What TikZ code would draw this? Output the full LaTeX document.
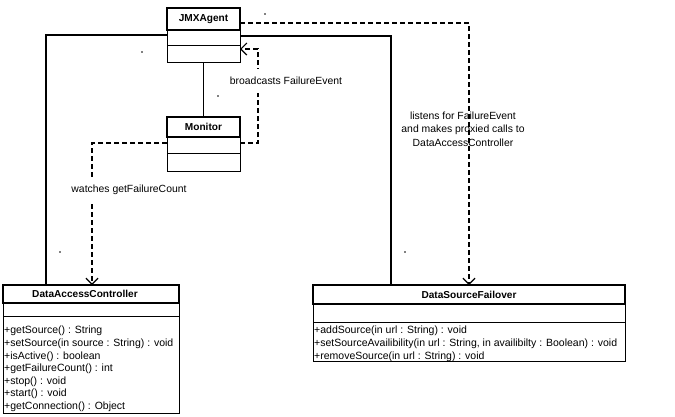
\documentclass[tikz,border=0pt]{standalone}
\usepackage{fontspec}
\setmainfont{Liberation Sans}
\usetikzlibrary{arrows.meta}
\begin{document}
\begin{tikzpicture}[x=1pt,y=-1pt,
  every node/.style={font=\fontsize{10}{12}\selectfont},
  cbox/.style={draw, line width=0.9pt, inner sep=0pt, outer sep=0pt, anchor=north west},
  namebox/.style={cbox, line width=1.8pt, font=\fontsize{10.1}{12}\selectfont\bfseries},
  opstext/.style={anchor=north west, inner sep=0pt, align=left, font=\fontsize{10.5}{12.6}\selectfont},
  assoc/.style={line width=1.8pt},
  dep/.style={line width=2.2pt, dash pattern=on 5pt off 3pt, -{Straight Barb[length=6pt,width=12pt,line width=1.2pt]}},
  lbl/.style={font=\fontsize{10.4}{13.5}\selectfont, align=center, inner sep=0pt},
  gap/.style={lbl, fill=white, inner xsep=1pt, inner ysep=8.5pt},
  tinydot/.style={fill=black}
]
\useasboundingbox (0,0) rectangle (675,416);
\fill[white] (0,0) rectangle (675,416);

% JMXAgent
\node[cbox, minimum width=73pt, minimum height=15pt] (jmxattr) at (167,30) {};
\node[cbox, minimum width=73pt, minimum height=17pt] (jmxops) at (167,45) {};
\node[namebox, minimum width=73pt, minimum height=22pt] (jmx) at (167,8) {JMXAgent};

% Monitor
\node[cbox, minimum width=73pt, minimum height=16pt] (monattr) at (167,137) {};
\node[cbox, minimum width=73pt, minimum height=18pt] (monops) at (167,153) {};
\node[namebox, minimum width=73pt, minimum height=20pt] (mon) at (167,117) {Monitor};

% DataAccessController
\node[cbox, minimum width=176pt, minimum height=13pt] (dacattr) at (3,303) {};
\node[cbox, minimum width=176pt, minimum height=97pt] (dacops) at (3,316) {};
\node[namebox, minimum width=176pt, minimum height=18pt,
      label={[font=\fontsize{10.1}{12}\selectfont\bfseries, xshift=-6pt]center:DataAccessController}] (dac) at (3,285) {};
\node[opstext] (dactext) at (4,326) {+getSource() : String\\
+setSource(in source : String) : void\\
+isActive() : boolean\\
+getFailureCount() : int\\
+stop() : void\\
+start() : void\\
+getConnection() : Object};

% DataSourceFailover
\node[cbox, minimum width=312pt, minimum height=18pt] (dsfattr) at (313,304) {};
\node[cbox, minimum width=312pt, minimum height=39pt] (dsfops) at (313,322) {};
\node[namebox, minimum width=312pt, minimum height=19pt] (dsf) at (313,285) {DataSourceFailover};
\node[opstext] (dsftext) at (314,326) {+addSource(in url : String) : void\\
+setSourceAvailibility(in url : String, in availibilty : Boolean) : void\\
+removeSource(in url : String) : void};

% associations
\coordinate (c1) at (46,35);
\draw[assoc] (dac.north -| c1) |- (jmxattr.west |- c1);
\coordinate (c2) at (391,36);
\draw[assoc] (jmxattr.east |- c2) -| (dsf.north -| c2);
\draw[assoc] (jmxops.south) -- (mon.north);

% dependencies
\coordinate (c4) at (258,143);
\coordinate (c5) at (258,49);
\draw[dep] (monattr.east |- c4) -- (c4) -- (c5) -- (jmxops.east |- c5);
\node[gap] (lbcast) at (286,81) {broadcasts FailureEvent};

\coordinate (c6) at (92,143);
\draw[dep] (monattr.west |- c6) -- (c6) -- (dac.north -| c6);
\node[gap] (lwatch) at (129,190) {watches getFailureCount};

\coordinate (c7) at (469,23);
\draw[dep] (jmx.east |- c7) -- (c7) -- (dsf.north -| c7);
\node[lbl] (llisten) at (463,129) {listens for FailureEvent\\and makes proxied calls to\\DataAccessController};

% tiny multiplicity marks
\fill[tinydot] (142,52) circle (0.8);
\fill[tinydot] (265,14) circle (0.8);
\fill[tinydot] (60,252) circle (0.8);
\fill[tinydot] (405,252) circle (0.8);
\fill[tinydot] (218,96) circle (0.8);
\end{tikzpicture}
\end{document}
